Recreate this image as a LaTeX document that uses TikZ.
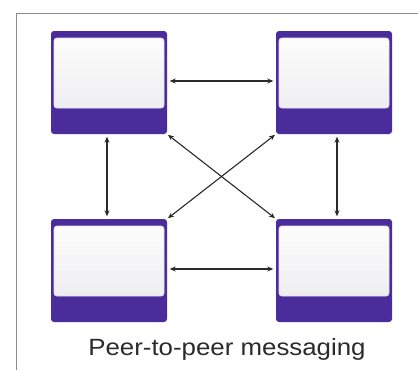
\documentclass[tikz,border=0pt]{standalone}
\usepackage{fontspec}
\setmainfont{Liberation Sans}
\usetikzlibrary{arrows.meta}
\begin{document}
\definecolor{peerpurple}{HTML}{4B2C9B}
\definecolor{screengray}{HTML}{E9E8EB}
\definecolor{screenedge}{HTML}{E4DDF6}
\definecolor{framegray}{HTML}{8C8C8C}
\definecolor{arrowgray}{HTML}{2A2A2A}
\definecolor{captiongray}{HTML}{2B2B2B}
\begin{tikzpicture}[x=1pt,y=-1pt,
  peer/.style={rectangle, rounded corners=3pt, fill=peerpurple,
    minimum width=116pt, minimum height=103pt, inner sep=0pt,
    path picture={
      \fill[top color=white!96!screengray, bottom color=screengray, draw=screenedge, line width=0.8pt]
        ([shift={(3pt,-7pt)}]path picture bounding box.north west)
        rectangle ([shift={(-3pt,-77pt)}]path picture bounding box.north east);
    }},
  link/.style={draw=arrowgray, line width=1.1pt, {Stealth[length=6pt,width=5pt]}-{Stealth[length=6pt,width=5pt]},
    shorten <=2.5pt, shorten >=2.5pt},
  frameline/.style={draw=framegray, line width=1pt}
]
\useasboundingbox (0,0) rectangle (418,370);
\fill[white] (0,0) rectangle (418,370);

% open frame: top and left edges
\coordinate (fa) at (16,370);
\coordinate (fb) at (16,13);
\coordinate (fc) at (418,13);
\draw[frameline] (fa) -- (fb) -- (fc);

% the four peers
\node[peer] (tl) at (109,82.5) {};
\node[peer] (tr) at (334,82.5) {};
\node[peer] (bl) at (109,270.5) {};
\node[peer] (br) at (334,270.5) {};

% message links
\draw[link] (tl.east |- 0,81) -- (tr.west |- 0,81);
\draw[link] (bl.east |- 0,269) -- (br.west |- 0,269);
\draw[link] (tl.south -| 107,0) -- (bl.north -| 107,0);
\draw[link] (tr.south -| 337,0) -- (br.north -| 337,0);
\draw[link, shorten <=1pt, shorten >=1pt] (tl.south east) -- (br.north west);
\draw[link, shorten <=1pt, shorten >=1pt] (tr.south west) -- (bl.north east);

% caption
\node[anchor=base, text=captiongray, font=\fontsize{23.5}{28}\selectfont, xscale=1.1] (caption) at (227,355) {Peer-to-peer messaging};
\end{tikzpicture}
\end{document}
